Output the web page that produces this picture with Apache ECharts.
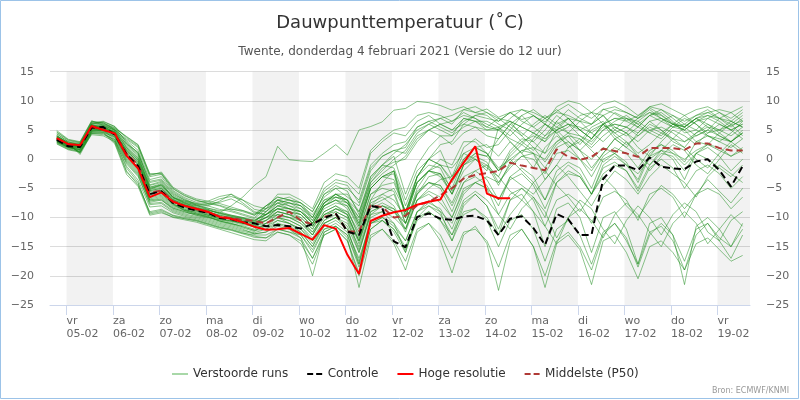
<!DOCTYPE html>
<html>
<head>
<meta charset="utf-8">
<script src="https://cdn.jsdelivr.net/npm/echarts/dist/echarts.min.js"></script>
<style>
html,body{margin:0;padding:0;background:#fff;}
#chart{width:800px;height:400px;}
</style>
</head>
<body>
<div id="chart"></div>
<script>
// ---- time base: 6-hourly steps, hours relative to vr 05-02 00:00 ----
const firstHour = -5;
const stepHours = 6;
const xMin = -8.5;
const xMax = 352.8;

// ---- tick labels ----
const dayNames = ['vr','za','zo','ma','di','wo','do','vr','za','zo','ma','di','wo','do','vr'];
const dayDates = ['05-02','06-02','07-02','08-02','09-02','10-02','11-02','12-02','13-02','14-02','15-02','16-02','17-02','18-02','19-02'];
const shadedDays = [0,2,4,6,8,10,12,14];
const yTicks = [-25,-20,-15,-10,-5,0,5,10,15];

// ---- key runs ----
const control = [3.3,2.2,2.1,5.4,5.5,4.2,0.8,-1.2,-6.0,-5.5,-7.5,-8.3,-8.8,-9.2,-10.1,-10.3,-10.8,-11.0,
  -11.5,-11.3,-11.5,-11.9,-11.1,-10.1,-9.3,-12.4,-13.0,-8.0,-8.4,-14.1,-15.1,-9.9,-9.3,-10.2,
  -10.4,-9.8,-9.7,-10.5,-13.0,-10.2,-9.8,-11.8,-14.7,-9.4,-10.3,-13.0,-13.0,-3.4,-1.1,-1.1,
  -1.9,0.3,-1.3,-1.6,-1.7,-0.4,0.0,-1.9,-4.7,-1.2];
const hires = [3.6,2.6,2.4,5.7,5.0,4.4,0.6,-1.6,-6.5,-5.7,-7.3,-8.0,-8.5,-9.0,-9.9,-10.2,-10.8,-11.6,
  -12.1,-12.0,-11.8,-12.8,-13.8,-11.3,-11.9,-16.4,-19.7,-10.6,-9.7,-9.1,-8.7,-7.8,-7.3,-6.9,
  -3.5,-0.6,2.2,-5.9,-6.7,-6.7];
const median = [3.5,2.4,2.3,5.4,5.1,4.3,1.0,-1.0,-5.7,-5.4,-7.2,-8.0,-8.6,-9.1,-9.8,-10.1,-10.4,-10.6,
  -11.0,-10.0,-9.0,-10.5,-11.2,-9.9,-9.4,-12.4,-12.4,-7.9,-8.2,-10.0,-9.7,-7.9,-7.3,-6.2,
  -5.0,-3.3,-2.7,-2.4,-2.0,-0.6,-1.1,-1.5,-1.9,1.7,0.4,-0.1,0.4,1.8,1.4,1.0,
  0.4,1.9,1.9,1.9,1.6,2.7,2.7,1.9,1.5,1.5];

// ---- perturbed members ----
const m01 = [3.6,2.4,2.2,5.6,5.4,4.4,1.6,-0.6,-5.4,-5.0,-7.0,-7.8,-8.4,-8.8,-9.2,-8.0,-6.5,-4.5,
  -3.0,2.2,-0.1,-0.3,-0.4,1.0,2.5,0.7,5.0,5.6,6.4,8.4,8.7,9.9,9.7,9.2,8.4,9.0,8.0,8.6,7.2,8.0,6.8,7.4,6.4,8.2,9.4,8.0,7.0,8.6,7.8,6.6,7.4,8.8,7.6,6.2,5.6,7.0,6.0,5.0,5.8,6.6];
const m02 = [4.0,2.8,2.6,6.2,6.0,5.2,3.2,1.5,-3.5,-3.0,-5.6,-6.8,-7.8,-8.4,-9.0,-9.6,-10.0,-10.8,
  -9.0,-7.0,-7.5,-8.0,-10.0,-6.0,-5.0,-6.5,-8.0,-2.0,0.5,1.5,2.0,5.5,6.5,7.0,6.0,8.5,8.0,7.5,
  6.0,5.0,7.5,8.5,7.0,5.5,4.5,6.5,8.0,7.5,5.0,4.0,5.5,7.5,8.5,7.0,5.5,4.0,5.0,7.0,8.0,6.5];
const m03 = [3.5,2.4,2.2,5.8,5.6,4.6,1.2,-0.8,-5.6,-5.2,-7.2,-8.0,-8.6,-9.2,-9.8,-10.4,-10.9,-11.4,
  -10.5,-9.0,-9.5,-10.0,-12.0,-9.0,-8.0,-9.0,-13.0,-7.0,-4.0,-2.0,-8.0,-3.0,0.0,2.5,3.0,6.0,7.5,8.0,7.0,6.5,5.5,4.5,3.0,5.0,6.0,5.0,3.5,6.0,7.0,6.5,5.5,7.5,8.0,6.5,4.5,5.0,4.0,3.5,3.0,4.5];
const m04 = [3.2,2.2,2.4,5.4,5.0,4.4,1.8,0.0,-4.8,-4.2,-6.4,-7.4,-8.2,-8.6,-9.4,-9.8,-10.2,-10.6,
  -9.5,-8.0,-8.5,-9.0,-11.0,-7.5,-6.0,-6.0,-9.0,-3.0,-1.0,0.5,-6.0,-1.0,2.0,4.0,4.0,7.0,6.5,5.0,
  5.0,3.5,2.5,4.5,6.0,5.0,3.0,1.5,3.5,6.0,4.5,3.0,1.0,2.5,4.5,6.0,5.0,3.0,2.5,4.5,6.0,4.0];
const m05 = [3.0,2.0,1.6,5.0,5.2,4.0,0.2,-2.0,-6.8,-6.4,-8.0,-8.6,-9.2,-9.8,-10.6,-11.0,-11.6,-12.2,
  -11.5,-10.5,-11.0,-12.0,-14.0,-11.0,-10.0,-11.0,-15.0,-9.0,-8.0,-9.0,-11.0,-6.0,-4.0,-4.5,-8.0,-4.0,-2.0,-1.0,-3.0,1.0,3.0,4.0,3.0,6.5,8.5,7.0,6.0,8.5,9.0,8.0,7.0,9.0,8.5,7.5,6.5,7.5,8.0,7.0,6.5,8.0];
const m06 = [4.6,3.2,2.8,6.4,6.2,5.4,3.8,2.4,-2.6,-2.4,-5.0,-6.2,-7.0,-7.6,-8.0,-8.8,-9.4,-10.0,
  -8.0,-6.5,-7.0,-7.5,-9.0,-5.0,-3.5,-4.0,-6.0,1.0,3.0,4.5,4.0,6.5,7.5,6.0,5.0,6.0,5.5,4.0,
  3.5,6.0,4.5,3.0,5.0,7.5,6.0,4.0,2.5,5.0,6.5,7.5,6.0,4.5,3.5,5.5,7.0,6.0,4.0,3.0,4.5,6.5];
const m07 = [3.3,2.1,1.9,5.5,5.8,4.9,2.0,-0.2,-6.2,-5.8,-7.8,-8.4,-8.9,-9.6,-10.2,-10.0,-10.4,-11.0,
  -10.0,-9.5,-10.0,-10.5,-12.5,-9.5,-9.0,-10.0,-14.0,-8.0,-6.0,-5.0,-9.0,-4.0,-2.0,-2.5,-6.0,-1.0,0.5,-0.5,-4.0,-1.5,0.5,0.0,-2.5,1.0,1.5,0.0,-3.0,0.5,2.0,1.0,-1.5,1.5,2.5,1.0,-1.0,1.0,0.0,-1.5,-3.0,-1.0];
const m08 = [3.6,2.6,2.0,5.2,5.4,4.8,2.4,0.6,-5.0,-4.6,-6.8,-7.6,-8.0,-8.0,-7.2,-6.0,-7.5,-9.0,
  -9.5,-7.5,-7.0,-8.0,-10.5,-7.0,-6.0,-7.5,-11.0,-4.0,-1.5,-0.5,0.0,3.0,5.0,6.0,5.0,7.0,6.5,5.5,
  7.0,5.5,4.0,6.0,7.5,6.0,7.0,5.0,3.5,6.0,8.0,7.0,5.5,4.5,6.5,7.5,6.0,5.0,7.0,8.0,6.5,5.5];
const m09 = [3.9,2.9,2.5,5.9,5.3,4.1,1.0,-1.5,-5.9,-5.4,-7.4,-8.2,-8.8,-9.0,-9.6,-10.0,-10.6,-10.9,
  -10.0,-8.5,-9.0,-10.0,-12.0,-8.0,-7.0,-8.0,-12.0,-6.0,-5.0,-5.5,-11.0,-6.0,-3.0,-2.5,-6.0,-2.0,0.0,-1.0,-4.5,-0.5,1.5,2.0,1.0,5.0,7.0,5.0,3.5,5.5,6.0,5.5,4.0,5.5,4.5,3.5,3.0,4.5,5.5,5.0,4.0,5.5];
const m10 = [4.3,3.0,2.3,6.0,6.4,5.6,2.8,1.0,-4.0,-3.6,-6.0,-7.0,-7.6,-8.0,-8.6,-9.0,-9.6,-10.2,
  -8.5,-7.0,-8.0,-8.5,-10.0,-7.0,-6.5,-7.0,-9.0,-4.0,-2.0,0.0,1.5,4.5,6.0,7.0,7.5,8.5,9.0,8.0,6.5,8.0,8.5,7.5,6.0,9.0,10.0,9.5,8.0,9.5,10.0,9.0,7.5,9.0,9.5,8.5,7.5,8.5,9.0,8.0,7.0,8.5];
const m11 = [2.9,2.0,2.1,5.1,5.0,4.5,0.8,-1.6,-6.4,-6.0,-7.6,-8.8,-9.4,-9.8,-10.4,-10.8,-11.2,-11.6,
  -10.5,-9.0,-9.5,-10.5,-13.0,-10.0,-8.5,-9.5,-14.5,-8.0,-7.0,-6.0,-11.0,-5.0,-2.0,0.0,-1.0,3.0,3.0,1.0,-2.0,0.0,1.5,1.0,-1.5,2.0,3.0,1.5,0.0,2.0,1.0,-1.0,-2.5,0.0,1.5,1.0,0.0,1.5,2.5,1.5,0.5,1.5];
const m12 = [3.4,2.3,1.8,5.3,4.8,3.6,-0.4,-2.6,-7.2,-6.8,-8.4,-9.0,-9.6,-10.2,-10.8,-11.2,-11.8,-12.4,
  -11.0,-10.0,-10.5,-11.5,-13.5,-10.5,-9.5,-10.5,-16.0,-9.5,-9.0,-10.0,-12.0,-7.0,-5.0,-3.5,-3.0,0.0,2.0,2.5,
  0.5,3.0,1.0,-1.5,2.0,4.0,2.5,0.0,-2.0,1.0,3.5,2.0,0.5,-1.0,1.5,3.5,2.0,0.0,-1.5,1.0,3.0,1.5];
const m13 = [4.9,3.4,3.0,6.6,5.8,5.0,3.4,2.0,-3.0,-2.6,-5.4,-6.6,-7.4,-7.2,-6.4,-6.0,-7.0,-8.0,
  -8.5,-6.0,-6.0,-7.0,-8.5,-4.0,-2.5,-3.0,-5.0,1.5,3.5,5.0,5.5,7.5,8.0,7.5,6.5,8.0,7.0,6.0,5.0,7.0,8.5,8.0,7.0,8.0,7.5,6.5,6.0,7.5,8.5,8.0,7.0,8.0,7.0,6.0,5.5,7.0,8.0,8.5,8.0,9.0];
const m14 = [3.1,2.5,2.6,5.7,5.2,4.2,1.4,-0.4,-5.2,-4.8,-6.9,-7.8,-8.6,-9.4,-10.0,-10.2,-10.8,-11.2,
  -9.5,-8.5,-9.0,-9.5,-11.5,-8.5,-7.5,-8.0,-11.5,-5.0,-3.0,-2.0,-9.5,-3.0,0.0,1.5,-3.0,2.0,3.5,2.0,
  2.5,5.0,3.0,1.5,4.0,6.5,4.5,2.5,5.0,6.0,3.5,2.0,4.5,6.5,5.0,3.0,2.0,4.5,6.0,4.5,3.0,5.0];
const m15 = [3.8,2.6,1.0,4.6,4.8,3.0,-2.0,-4.5,-9.0,-8.6,-9.6,-10.0,-10.4,-11.0,-11.6,-12.0,-12.6,-13.2,
  -13.5,-12.0,-12.5,-13.0,-16.0,-12.0,-11.5,-13.0,-18.0,-11.0,-10.0,-11.5,-14.0,-9.0,-8.0,-9.0,-11.0,-6.0,-4.0,-3.0,-4.0,-1.0,0.5,1.0,0.0,3.0,4.5,4.0,3.0,5.0,6.0,5.5,4.5,6.5,7.0,6.0,5.5,7.0,7.5,7.0,6.0,7.5];
const m16 = [2.8,1.8,1.4,4.4,4.2,3.4,-0.8,-3.0,-7.6,-7.4,-8.8,-9.4,-9.8,-10.4,-11.0,-11.4,-12.0,-12.8,
  -12.5,-11.0,-12.0,-13.0,-15.5,-12.0,-11.0,-12.5,-17.0,-11.0,-10.5,-12.0,-15.0,-10.0,-9.0,-10.5,-13.0,-9.0,-8.5,-10.0,
  -13.0,-9.5,-7.0,-9.0,-11.5,-14.5,-10.0,-8.5,-10.5,-13.5,-9.5,-7.5,-9.5,-12.5,-15.0,-11.0,-9.0,-11.0,-14.5,-12.0,-9.5,-11.5];
const m17 = [3.5,2.3,1.2,4.9,5.0,3.3,-1.5,-4.0,-9.4,-9.0,-10.0,-10.4,-10.8,-11.4,-12.0,-12.6,-13.2,-13.8,
  -14.0,-12.5,-13.0,-14.0,-17.0,-13.0,-12.0,-14.0,-20.0,-13.0,-12.0,-14.0,-17.5,-12.0,-11.0,-13.0,-17.0,-12.5,-12.0,-14.0,-18.5,-13.0,-12.0,-15.0,-22.0,-14.5,-13.0,-15.5,-21.5,-14.0,-13.0,-16.0,-20.5,-15.0,-14.0,-16.0,-19.0,-14.5,-13.5,-15.5,-17.5,-16.5];
const m18 = [3.0,2.1,1.7,4.7,4.6,3.8,-0.2,-2.4,-7.0,-7.0,-8.4,-9.0,-9.6,-10.0,-10.6,-11.0,-11.6,-12.2,
  -12.0,-10.5,-11.0,-12.0,-14.5,-11.0,-10.0,-11.5,-16.0,-9.0,-8.0,-9.0,-12.0,-7.0,-6.0,-7.5,-10.0,-5.0,-4.0,-5.0,
  -7.0,-3.0,-4.5,-6.0,-3.5,-1.0,-3.0,-5.5,-8.0,-4.5,-2.0,-3.5,-6.0,-3.0,-1.0,-2.5,-4.0,-6.5,-3.0,-1.0,-2.5,-4.0];
const m19 = [3.2,2.0,1.5,4.8,5.0,3.8,0.4,-1.8,-7.4,-7.0,-8.6,-9.2,-9.4,-10.0,-10.4,-10.6,-11.0,-11.6,
  -11.5,-10.0,-11.0,-12.5,-15.0,-11.0,-10.0,-12.0,-18.0,-10.0,-9.0,-11.0,-16.0,-9.0,-7.0,-9.0,-14.0,-8.0,-6.0,-8.0,-13.0,-7.0,-6.0,-9.0,-15.0,-8.5,-7.5,-10.0,-16.0,-10.0,-9.0,-12.0,-18.0,-11.0,-10.0,-13.0,-17.5,-12.0,-11.0,-13.5,-15.0,-12.0];
const m20 = [3.7,2.5,2.3,5.9,5.5,4.3,1.0,-1.0,-5.8,-5.6,-7.4,-8.2,-8.8,-9.4,-10.0,-10.2,-10.6,-11.0,
  -10.5,-9.5,-10.0,-11.0,-13.0,-9.0,-8.0,-9.5,-14.0,-7.0,-6.0,-7.0,-10.0,-4.0,-2.0,-3.0,-6.0,-1.0,0.0,-1.5,
  -3.0,-5.5,-7.0,-4.0,-2.0,-4.5,-6.5,-9.0,-6.0,-3.0,-5.0,-8.0,-10.0,-7.0,-4.5,-6.0,-8.5,-6.0,-3.5,-5.5,-7.5,-5.0];
const m21 = [4.1,2.7,2.4,6.1,6.3,5.0,2.6,1.2,-4.4,-3.8,-6.2,-7.2,-8.0,-8.4,-8.8,-8.6,-8.8,-9.6,
  -8.5,-7.5,-8.0,-9.0,-10.5,-7.5,-6.0,-7.0,-11.0,-5.0,-3.0,-2.5,-10.0,-4.0,-2.0,-2.5,-5.0,0.0,2.0,1.0,
  -2.0,0.5,2.5,1.0,-3.5,-1.0,2.0,3.5,1.5,-0.5,1.0,3.0,0.5,-2.0,0.5,2.5,1.5,-1.0,-2.5,0.0,2.5,1.0];
const m22 = [3.3,2.3,2.0,5.5,5.1,4.7,2.2,0.3,-4.5,-4.0,-6.6,-7.6,-8.4,-8.8,-9.2,-9.6,-10.0,-10.4,
  -9.5,-8.0,-8.5,-9.5,-11.5,-8.0,-7.0,-8.5,-13.5,-7.5,-6.5,-8.0,-12.0,-6.0,-4.0,-5.0,-9.0,-4.0,-3.0,-4.5,-8.0,-3.0,-1.5,-3.0,-7.0,-2.0,-0.5,-1.5,-5.0,0.0,1.0,-0.5,-4.0,0.5,1.5,0.0,-3.5,1.0,2.0,0.5,-2.0,0.0];
const m23 = [2.6,1.6,1.2,4.2,4.0,3.0,-1.2,-3.6,-8.2,-8.0,-9.2,-9.8,-10.2,-10.8,-11.4,-11.8,-12.4,-12.8,
  -12.5,-11.5,-12.0,-13.5,-20.0,-12.5,-11.5,-13.5,-22.0,-13.5,-12.0,-14.5,-19.0,-12.5,-11.0,-14.0,-19.5,-13.0,-11.5,-14.5,-22.5,-14.0,-12.0,-15.0,-20.0,-14.0,-12.5,-15.0,-19.0,-13.0,-11.0,-14.0,-18.0,-12.5,-11.5,-14.0,-19.0,-13.0,-11.0,-14.0,-17.0,-13.0];
const m24 = [4.0,2.8,0.8,4.4,4.5,2.6,-2.6,-4.7,-9.6,-9.2,-9.9,-10.2,-10.6,-11.2,-11.8,-12.2,-12.8,-13.4,
  -13.5,-12.5,-13.0,-14.5,-18.0,-13.0,-12.0,-14.0,-19.5,-12.0,-10.5,-12.5,-16.0,-10.0,-8.0,-9.5,-13.0,-7.5,-6.0,-8.0,-12.0,-7.0,-5.0,-6.5,-10.0,-4.0,-2.0,-3.0,-6.0,-1.0,0.5,-1.0,-3.5,1.0,2.5,1.5,-0.5,3.0,4.0,3.0,2.0,3.5];
const m25 = [2.9,1.9,1.7,5.1,5.4,4.1,0.5,-1.4,-6.6,-6.2,-7.8,-8.8,-9.0,-9.6,-10.2,-10.6,-11.0,-11.4,
  -11.0,-9.5,-10.0,-11.0,-13.0,-9.5,-8.5,-9.0,-12.5,-6.0,-4.5,-4.0,-9.0,-4.0,-2.0,-1.0,-3.5,1.0,0.0,-2.0,
  5.5,3.0,1.0,3.5,6.0,4.5,2.0,3.0,5.5,6.5,4.0,2.5,4.0,6.0,5.0,3.5,5.5,7.0,5.5,4.0,3.0,4.5];
const m26 = [4.4,3.0,2.7,6.3,6.5,5.6,3.6,2.2,-2.8,-2.2,-4.8,-6.0,-6.8,-7.2,-7.6,-8.2,-8.8,-9.4,
  -8.0,-7.0,-7.5,-8.0,-9.5,-6.5,-5.0,-5.0,-7.0,-1.0,1.0,2.5,3.0,5.5,6.5,5.5,4.5,6.5,7.5,7.0,
  6.5,8.0,6.5,5.5,7.0,8.5,7.0,5.0,6.0,7.5,5.5,4.5,6.5,8.0,7.5,6.0,5.0,6.5,7.5,6.5,5.0,6.0];
const m27 = [3.4,2.2,2.1,5.7,5.7,4.5,1.1,-0.9,-6.0,-5.4,-7.6,-8.6,-9.2,-9.6,-10.2,-10.6,-11.0,-11.2,
  -10.0,-9.0,-9.5,-10.5,-12.5,-9.5,-8.5,-9.5,-14.0,-8.5,-7.5,-8.5,-12.5,-7.0,-5.5,-6.5,-10.0,-5.5,-4.0,-5.0,-9.5,-6.0,-5.0,-7.0,-11.5,-7.0,-6.0,-7.5,-11.0,-6.5,-5.5,-7.0,-10.5,-6.0,-5.0,-6.5,-10.0,-6.0,-5.0,-6.0,-8.5,-6.5];
const m28 = [3.8,2.7,2.2,5.4,5.1,4.6,2.0,0.2,-5.2,-4.4,-6.6,-7.4,-7.8,-7.6,-6.8,-6.4,-7.0,-8.6,
  -9.0,-7.0,-6.5,-7.5,-10.0,-6.0,-4.5,-5.5,-9.5,-3.0,-1.0,-1.5,-7.0,-2.0,0.0,-1.0,-4.0,-0.5,1.0,0.5,-2.0,1.5,3.5,3.0,1.0,3.0,4.0,3.5,2.0,4.0,5.5,4.5,3.0,5.0,5.5,4.5,3.0,4.0,5.0,4.0,3.0,4.5];
const m29 = [3.9,2.6,2.5,6.0,5.9,5.1,3.0,1.0,-3.8,-3.4,-5.8,-7.0,-7.9,-8.6,-9.2,-9.8,-10.2,-10.6,
  -9.0,-7.5,-8.5,-9.0,-11.0,-7.5,-6.5,-7.5,-10.0,-4.5,-2.5,-1.0,0.5,3.5,5.0,6.0,6.5,7.5,7.0,5.5,
  5.0,6.5,4.0,2.0,-0.5,2.5,4.0,1.5,-1.5,1.0,3.5,4.5,2.0,0.5,3.0,5.0,4.0,2.5,4.5,6.0,5.0,3.5];
const m30 = [2.7,1.7,1.3,4.5,4.4,3.2,-0.6,-2.8,-7.8,-7.6,-9.0,-9.6,-10.0,-10.6,-11.2,-11.6,-12.2,-12.6,
  -12.0,-11.0,-11.5,-12.5,-15.0,-11.5,-10.5,-12.0,-17.5,-11.0,-10.0,-11.0,-14.0,-9.0,-7.5,-8.5,-12.0,-7.0,-5.5,-7.0,
  -9.5,-12.0,-8.5,-6.5,-9.0,-13.5,-10.0,-7.0,-8.5,-12.0,-14.5,-10.5,-8.0,-10.0,-13.0,-9.5,-7.5,-9.0,-12.5,-14.0,-10.5,-9.0];
const m31 = [3.4,2.4,2.3,5.6,5.0,4.3,1.6,-0.2,-5.0,-4.4,-6.5,-7.5,-8.3,-8.7,-9.3,-9.7,-10.1,-10.5,
  -9.5,-8.5,-8.5,-9.0,-11.0,-8.0,-7.0,-7.5,-10.5,-5.0,-3.0,-3.5,-9.0,-3.0,-1.0,-1.5,-5.5,-1.0,1.0,0.5,
  3.5,6.0,7.5,5.5,4.0,5.5,7.0,6.5,4.5,3.0,5.0,7.0,6.5,5.0,4.0,6.0,7.5,6.0,4.5,5.0,6.5,5.5];
const m32 = [3.1,2.1,1.6,4.9,4.9,3.9,0.0,-2.2,-7.0,-6.6,-8.2,-8.8,-9.4,-9.9,-10.6,-11.1,-11.4,-12.0,
  -11.0,-10.0,-10.5,-11.5,-14.0,-10.5,-9.0,-10.0,-15.5,-9.5,-8.0,-8.5,-11.0,-5.5,-4.0,-4.5,-7.5,-3.0,-2.0,-3.5,-7.0,-3.5,-2.5,-4.5,-8.5,-4.0,-2.5,-3.0,-6.0,-1.5,-0.5,-2.0,-5.5,-1.5,0.0,-1.5,-5.0,-2.0,-1.0,-2.5,-5.0,-3.0];
const m33 = [3.6,2.5,2.3,5.7,5.4,4.7,1.4,-0.6,-5.4,-5.0,-7.0,-7.8,-8.4,-9.0,-9.6,-10.0,-10.4,-10.8,
  -10.0,-8.5,-9.0,-9.5,-11.5,-8.0,-6.5,-7.0,-10.0,-3.5,-1.0,1.0,2.5,5.0,6.0,5.0,4.0,5.5,6.5,6.5,5.5,6.5,5.5,4.5,3.5,5.0,6.0,5.5,4.5,6.0,7.0,7.0,6.0,7.5,6.5,5.5,5.0,6.5,7.0,6.0,5.0,6.0];
const m34 = [3.6,2.5,1.1,4.7,4.6,2.8,-2.2,-4.2,-9.2,-8.8,-9.7,-10.2,-10.5,-11.1,-11.7,-12.1,-12.7,-13.0,
  -13.0,-12.0,-12.5,-13.5,-17.0,-12.5,-11.5,-13.0,-18.5,-12.0,-10.5,-12.0,-15.5,-10.5,-9.0,-10.5,-14.0,-9.5,-8.5,-10.5,-15.0,-10.5,-9.5,-12.0,-17.5,-12.0,-10.5,-13.0,-18.0,-12.5,-11.0,-13.5,-18.5,-13.0,-11.0,-13.0,-21.5,-11.5,-10.0,-12.0,-15.0,-11.0];
const m35 = [4.7,3.3,2.9,6.5,6.1,5.3,3.9,2.5,-2.5,-2.5,-5.1,-6.3,-7.1,-7.5,-7.9,-8.5,-9.0,-9.6,
  -8.0,-6.5,-7.0,-7.5,-9.0,-5.5,-4.0,-4.5,-7.5,-1.5,0.5,1.5,1.0,4.0,5.0,4.0,2.5,4.5,5.5,5.0,
  5.5,4.0,6.0,7.5,6.0,4.5,5.5,7.5,8.0,6.0,4.5,5.5,7.0,8.5,7.0,5.5,6.0,7.5,8.5,7.0,5.5,7.0];
const m36 = [3.7,2.5,2.1,5.3,5.6,5.0,2.6,0.8,-4.8,-4.4,-6.6,-7.2,-7.6,-7.8,-7.4,-6.8,-7.8,-9.2,
  -9.5,-8.0,-7.5,-8.5,-11.0,-7.5,-6.0,-7.0,-11.5,-5.0,-3.0,-2.0,-10.0,-3.0,0.0,-1.0,-1.5,1.0,2.0,1.0,-1.5,0.0,-2.0,-4.0,-7.0,-3.0,-1.0,-2.5,-6.0,-2.5,-1.0,-2.0,-5.0,-1.0,1.0,0.5,-2.0,1.0,2.5,2.0,0.5,2.0];

const members = [m01,m02,m03,m04,m05,m06,m07,m08,m09,m10,m11,m12,m13,m14,m15,m16,m17,m18,
  m19,m20,m21,m22,m23,m24,m25,m26,m27,m28,m29,m30,m31,m32,m33,m34,m35,m36];

// ---- build chart ----
const FONT = '"DejaVu Sans", Verdana, sans-serif';
const C_MEMBER = 'rgba(25,140,25,0.5)';
const C_CONTROL = '#000000';
const C_HIRES = '#ff0000';
const C_MEDIAN = '#b03a36';
const DASH_ICON = 'path://M0,0h6v2h-6z M9,0h6v2h-6z';
function pairs(arr) { return arr.map((v, i) => [firstHour + i * stepHours, v]); }
const tickHours = dayDates.map((d, i) => i * 24);
const minus = v => String(v).replace('-', '\u2212');

const series = [];
series.push({
  type: 'line', data: [], silent: true, z: -1, symbol: 'none',
  markArea: {
    silent: true,
    itemStyle: { color: 'rgba(0,0,0,0.052)' },
    data: shadedDays.map(d => [{ xAxis: d * 24 }, { xAxis: Math.min(d * 24 + 24, xMax) }])
  }
});
members.forEach(m => {
  series.push({
    name: 'Verstoorde runs', type: 'line', data: pairs(m), symbol: 'none', showSymbol: false, silent: true, z: 2,
    itemStyle: { color: C_MEMBER },
    lineStyle: { width: 1, color: C_MEMBER }
  });
});
series.push({
  name: 'Middelste (P50)', type: 'line', data: pairs(median), symbol: 'none', showSymbol: false, z: 3,
  itemStyle: { color: C_MEDIAN },
  lineStyle: { width: 2, color: C_MEDIAN, type: [7, 4] }
});
series.push({
  name: 'Controle', type: 'line', data: pairs(control), symbol: 'none', showSymbol: false, z: 4,
  itemStyle: { color: C_CONTROL },
  lineStyle: { width: 2, color: C_CONTROL, type: [7, 4] }
});
series.push({
  name: 'Hoge resolutie', type: 'line', data: pairs(hires), symbol: 'none', showSymbol: false, z: 5,
  itemStyle: { color: C_HIRES },
  lineStyle: { width: 2, color: C_HIRES }
});

const chart = echarts.init(document.getElementById('chart'));
chart.setOption({
  animation: false,
  backgroundColor: '#ffffff',
  textStyle: { fontFamily: FONT },
  title: [
    { text: 'Dauwpunttemperatuur (\u02DAC)', left: 'center', top: 8,
      textStyle: { fontFamily: FONT, fontSize: 18, fontWeight: 'normal', color: '#333333', lineHeight: 20 } },
    { text: 'Twente, donderdag 4 februari 2021 (Versie do 12 uur)', left: 'center', top: 39,
      textStyle: { fontFamily: FONT, fontSize: 12, fontWeight: 'normal', color: '#555555', lineHeight: 15 } }
  ],
  legend: {
    left: 167, top: 362, itemWidth: 16, itemHeight: 2, itemGap: 19,
    textStyle: { fontFamily: FONT, fontSize: 12, color: '#333333', lineHeight: 14 },
    selectedMode: false,
    itemStyle: { borderWidth: 0 },
    data: [
      { name: 'Verstoorde runs', icon: 'rect', itemStyle: { color: '#a8d8a8', borderWidth: 0 } },
      { name: 'Controle', icon: DASH_ICON, itemStyle: { color: C_CONTROL, borderWidth: 0 } },
      { name: 'Hoge resolutie', icon: 'rect', itemStyle: { color: C_HIRES, borderWidth: 0 } },
      { name: 'Middelste (P50)', icon: DASH_ICON, itemStyle: { color: C_MEDIAN, borderWidth: 0 } }
    ]
  },
  grid: { left: 50, right: 50, top: 71.7, bottom: 95, containLabel: false },
  xAxis: {
    type: 'value', min: xMin, max: xMax,
    axisLine: { show: true, onZero: false, lineStyle: { color: '#ccd6eb', width: 1 } },
    axisTick: { show: true, customValues: tickHours, length: 10, lineStyle: { color: '#ccd6eb' } },
    axisLabel: {
      customValues: tickHours, align: 'left', margin: 9, lineHeight: 13.5,
      color: '#666666', fontSize: 11, fontFamily: FONT,
      formatter: v => { const i = Math.round(v / 24); return dayNames[i] + '\n' + dayDates[i]; }
    },
    splitLine: { show: false }
  },
  yAxis: [
    { type: 'value', min: yTicks[0], max: yTicks[yTicks.length - 1], interval: 5, position: 'left',
      axisLine: { show: false }, axisTick: { show: false },
      splitLine: { lineStyle: { color: '#dcdcdc', width: 1 } },
      axisLabel: { margin: 16, color: '#666666', fontSize: 11, fontFamily: FONT, formatter: minus } },
    { type: 'value', min: yTicks[0], max: yTicks[yTicks.length - 1], interval: 5, position: 'right',
      axisLine: { show: false }, axisTick: { show: false }, splitLine: { show: false },
      axisLabel: { margin: 16, color: '#666666', fontSize: 11, fontFamily: FONT, formatter: minus } }
  ],
  graphic: [
    { type: 'rect', silent: true, shape: { x: 0.5, y: 0.5, width: 798, height: 398 },
      style: { fill: null, stroke: '#9cc3e8', lineWidth: 1 } },
    { type: 'text', silent: true, x: 789, y: 391,
      style: { text: 'Bron: ECMWF/KNMI', fill: '#999999', font: '8px ' + FONT, textAlign: 'right', textVerticalAlign: 'middle' } }
  ],
  series: series
});
</script>
</body>
</html>
